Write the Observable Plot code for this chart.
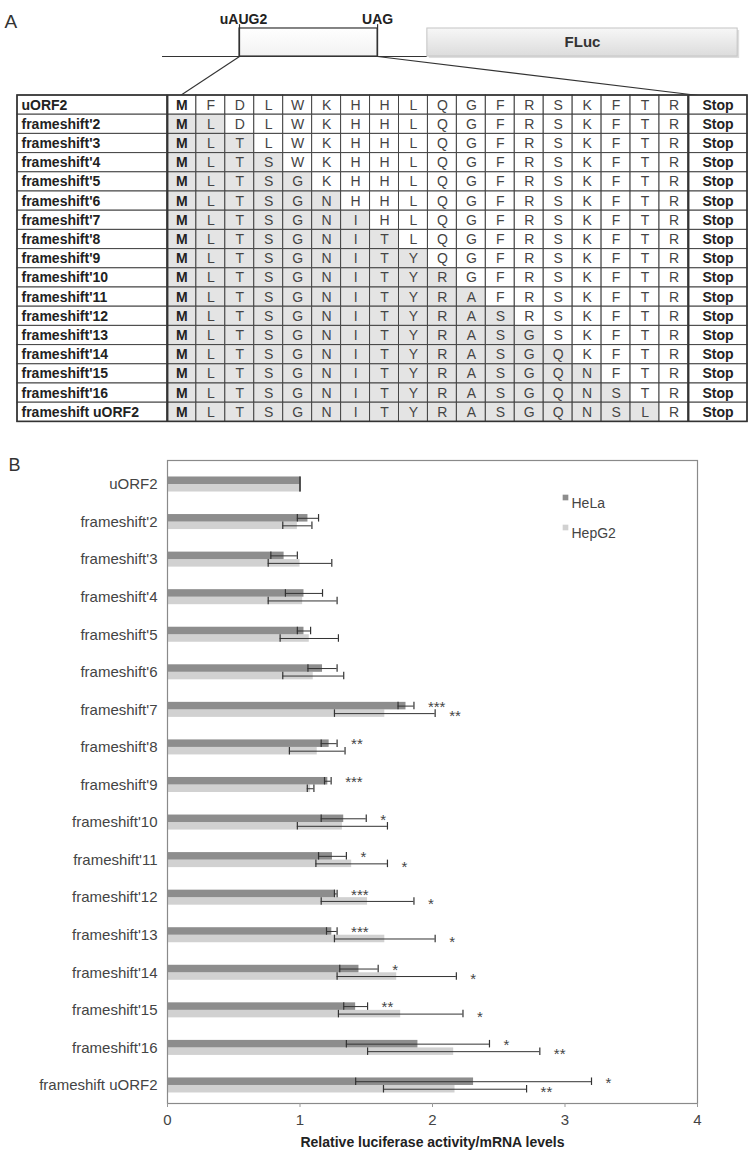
<!DOCTYPE html>
<html>
<head>
<meta charset="utf-8">
<script src="https://cdn.jsdelivr.net/npm/d3@7"></script>
<script src="https://cdn.jsdelivr.net/npm/@observablehq/plot@0.6"></script>
<style>
  body { margin: 0; background: #fff; }
  #chart svg { display: block; }
</style>
</head>
<body>
<div id="chart"></div>
<script>
// ---------- Panel A data ----------
const rowNames = ["uORF2","frameshift'2","frameshift'3","frameshift'4","frameshift'5","frameshift'6",
  "frameshift'7","frameshift'8","frameshift'9","frameshift'10","frameshift'11","frameshift'12",
  "frameshift'13","frameshift'14","frameshift'15","frameshift'16","frameshift uORF2"];
const rowSequences = [
  "MFDLWKHHLQGFRSKFTR",
  "MLDLWKHHLQGFRSKFTR",
  "MLTLWKHHLQGFRSKFTR",
  "MLTSWKHHLQGFRSKFTR",
  "MLTSGKHHLQGFRSKFTR",
  "MLTSGNHHLQGFRSKFTR",
  "MLTSGNIHLQGFRSKFTR",
  "MLTSGNITLQGFRSKFTR",
  "MLTSGNITYQGFRSKFTR",
  "MLTSGNITYRGFRSKFTR",
  "MLTSGNITYRAFRSKFTR",
  "MLTSGNITYRASRSKFTR",
  "MLTSGNITYRASGSKFTR",
  "MLTSGNITYRASGQKFTR",
  "MLTSGNITYRASGQNFTR",
  "MLTSGNITYRASGQNSTR",
  "MLTSGNITYRASGQNSLR"
];
const shadedCodons = [0,2,3,4,5,6,7,8,9,10,11,12,13,14,15,16,17];
const stopLabel = "Stop";

// schematic of the reporter (in table-column units)
const backbone = [{x1: -0.17, x2: 8.98}];
const uorfBox = [{start: 2.49, end: 7.26, startLabel: "uAUG2", endLabel: "UAG"}];
const flucBox = [{start: 8.98, end: 19.70, label: "FLuc"}];
const zoomTargets = [0.45, 18.35];
const featureTop = -3.49, featureBottom = -2.03;

// ---------- Panel B data ----------
const constructs = rowNames;
const helaMean  = [1.00,1.06,0.88,1.03,1.03,1.17,1.80,1.22,1.21,1.33,1.245,1.27,1.24,1.445,1.42,1.89,2.31];
const helaErr   = [0.00,0.08,0.10,0.14,0.05,0.11,0.06,0.06,0.025,0.17,0.105,0.01,0.04,0.145,0.09,0.54,0.89];
const hepg2Mean = [1.00,0.98,1.00,1.02,1.07,1.10,1.64,1.13,1.08,1.32,1.39,1.51,1.64,1.73,1.76,2.16,2.17];
const hepg2Err  = [0.00,0.11,0.24,0.26,0.22,0.23,0.38,0.21,0.025,0.34,0.27,0.35,0.38,0.45,0.47,0.65,0.54];
const helaSig   = ["","","","","","","***","**","***","*","*","***","***","*","**","*","*"];
const hepg2Sig  = ["","","","","","","**","","","","*","*","*","*","*","**","**"];
const xTicks = [0,1,2,3,4];
const seriesNames = ["HeLa","HepG2"];
const xTitle = "Relative luciferase activity/mRNA levels";

const helaColor = "#8d8d8d", hepg2Color = "#d1d1d1";
const font = "'Liberation Sans', Arial, Helvetica, sans-serif";

// ---------- build panel A ----------
const cells = [];
rowNames.forEach((name, i) => {
  const seq = rowSequences[i];
  for (let j = 0; j < seq.length; j++) {
    cells.push({row: i, col: j, aa: seq[j], shaded: j < shadedCodons[i]});
  }
});
const rowsIdx = rowNames.map((d, i) => ({name: d, i}));
const nCols = rowSequences[0].length;

const defsMark = () => {
  const defs = d3.create("svg:defs");
  const g = defs.append("linearGradient").attr("id", "flucGrad").attr("x1", 0).attr("y1", 0).attr("x2", 0).attr("y2", 1);
  g.append("stop").attr("offset", "0%").attr("stop-color", "#f7f7f7");
  g.append("stop").attr("offset", "100%").attr("stop-color", "#dcdcdc");
  const g2 = defs.append("linearGradient").attr("id", "uorfGrad").attr("x1", 0).attr("y1", 0).attr("x2", 0).attr("y2", 1);
  g2.append("stop").attr("offset", "0%").attr("stop-color", "#ffffff");
  g2.append("stop").attr("offset", "100%").attr("stop-color", "#f2f2f2");
  return defs.node();
};

const panelA = Plot.plot({
  width: 750,
  height: 440,
  marginLeft: 17, marginRight: 3, marginTop: 0, marginBottom: 0,
  style: {fontFamily: font, background: "white"},
  x: {domain: [-5.18, 20.04], axis: null},
  y: {domain: [-4.948, 17.969], range: [0, 440], axis: null},
  color: {type: "identity"},
  marks: [
    defsMark,
    Plot.text(["A"], {frameAnchor: "top-left", dx: -13, dy: 14, fontSize: 19, fill: "#333"}),
    // backbone
    Plot.ruleY(backbone, {y: featureBottom, x1: "x1", x2: "x2", stroke: "#333", strokeWidth: 1.2}),
    // FLuc box with shadow
    Plot.rect(flucBox, {x1: "start", x2: "end", y1: featureTop, y2: featureBottom, fill: "#bdbdbd", fillOpacity: 0.5, dx: 2, dy: 2}),
    Plot.rect(flucBox, {x1: "start", x2: "end", y1: featureTop, y2: featureBottom, fill: "url(#flucGrad)", stroke: "#c4c4c4"}),
    Plot.text(flucBox, {x: d => (d.start + d.end) / 2, y: (featureTop + featureBottom) / 2, text: "label", fontWeight: "bold", fontSize: 15, fill: "#333"}),
    // uORF box
    Plot.rect(uorfBox, {x1: "start", x2: "end", y1: featureTop, y2: featureBottom, fill: "url(#uorfGrad)", stroke: "#333", strokeWidth: 1.2}),
    Plot.ruleX(uorfBox, {x: "start", y1: featureTop - 0.2, y2: featureBottom, stroke: "#333", strokeWidth: 1.2}),
    Plot.ruleX(uorfBox, {x: "end", y1: featureTop - 0.2, y2: featureBottom, stroke: "#333", strokeWidth: 1.2}),
    Plot.text(uorfBox, {x: "start", y: featureTop - 0.2, text: "startLabel", lineAnchor: "bottom", dx: 4, dy: -1, fontWeight: "bold", fontSize: 14, fill: "#222"}),
    Plot.text(uorfBox, {x: "end", y: featureTop - 0.2, text: "endLabel", lineAnchor: "bottom", dy: -1, fontWeight: "bold", fontSize: 14, fill: "#222"}),
    // zoom lines
    Plot.link(uorfBox, {x1: "start", y1: featureBottom, x2: zoomTargets[0], y2: 0, stroke: "#333", strokeWidth: 1.1}),
    Plot.link(uorfBox, {x1: "end", y1: featureBottom, x2: zoomTargets[1], y2: 0, stroke: "#333", strokeWidth: 1.1}),
    // table: name cells
    Plot.rect(rowsIdx, {x1: -5.18, x2: 0, y1: d => d.i, y2: d => d.i + 1, fill: "white", stroke: "#444", strokeWidth: 1}),
    // amino acid cells
    Plot.rect(cells, {x1: "col", x2: d => d.col + 1, y1: "row", y2: d => d.row + 1, fill: d => d.shaded ? "#e4e4e4" : "#ffffff", stroke: "#444", strokeWidth: 1}),
    // stop cells
    Plot.rect(rowsIdx, {x1: nCols, x2: 20.04, y1: d => d.i, y2: d => d.i + 1, fill: "white", stroke: "#444", strokeWidth: 1}),
    // thicker separators & outer border
    Plot.ruleX([0, nCols], {y1: 0, y2: rowNames.length, stroke: "#333", strokeWidth: 2}),
    Plot.rect([0], {x1: -5.18, x2: 20.04, y1: 0, y2: rowNames.length, fill: "none", stroke: "#333", strokeWidth: 1.6}),
    // texts
    Plot.text(rowsIdx, {x: -5.18, y: d => d.i + 0.5, text: "name", textAnchor: "start", dx: 4, fontWeight: "bold", fontSize: 14, fill: "#222"}),
    Plot.text(cells.filter(d => d.col === 0), {x: d => d.col + 0.5, y: d => d.row + 0.5, text: "aa", fontWeight: "bold", fontSize: 14, fill: "#222"}),
    Plot.text(cells.filter(d => d.col > 0), {x: d => d.col + 0.5, y: d => d.row + 0.5, text: "aa", fontSize: 14, fill: "#444"}),
    Plot.text(rowsIdx, {x: (nCols + 20.04) / 2, y: d => d.i + 0.5, text: () => stopLabel, fontWeight: "bold", fontSize: 14, fill: "#222"})
  ]
});

// ---------- build panel B ----------
const hela = constructs.map((c, i) => ({name: c, i, mean: helaMean[i], err: helaErr[i], sig: helaSig[i]}));
const hepg2 = constructs.map((c, i) => ({name: c, i, mean: hepg2Mean[i], err: hepg2Err[i], sig: hepg2Sig[i]}));
const barH = 0.2, capH = 0.1;

const panelB = Plot.plot({
  width: 750,
  height: 714,
  marginLeft: 167, marginRight: 53, marginTop: 20, marginBottom: 51,
  style: {fontFamily: font, background: "white", color: "#444"},
  x: {domain: [0, 4]},
  y: {domain: [-0.639, 16.48], range: [20, 663]},
  marks: [
    Plot.text(["B"], {frameAnchor: "top-left", dx: -159, dy: -2, fontSize: 18, fill: "#333"}),
    // bars
    Plot.rect(hepg2, {x1: 0, x2: "mean", y1: d => d.i, y2: d => d.i + barH, fill: hepg2Color}),
    Plot.rect(hela, {x1: 0, x2: "mean", y1: d => d.i - barH, y2: d => d.i, fill: helaColor}),
    // error bars
    Plot.ruleY(hela, {y: d => d.i - barH / 2, x1: d => d.mean - d.err, x2: d => d.mean + d.err, stroke: "#333", strokeWidth: 1}),
    Plot.ruleX(hela, {x: d => d.mean - d.err, y1: d => d.i - barH / 2 - capH, y2: d => d.i - barH / 2 + capH, stroke: "#333", strokeWidth: 1.2}),
    Plot.ruleX(hela, {x: d => d.mean + d.err, y1: d => d.i - barH / 2 - capH, y2: d => d.i - barH / 2 + capH, stroke: "#333", strokeWidth: 1.2}),
    Plot.ruleY(hepg2, {y: d => d.i + barH / 2, x1: d => d.mean - d.err, x2: d => d.mean + d.err, stroke: "#333", strokeWidth: 1}),
    Plot.ruleX(hepg2, {x: d => d.mean - d.err, y1: d => d.i + barH / 2 - capH, y2: d => d.i + barH / 2 + capH, stroke: "#333", strokeWidth: 1.2}),
    Plot.ruleX(hepg2, {x: d => d.mean + d.err, y1: d => d.i + barH / 2 - capH, y2: d => d.i + barH / 2 + capH, stroke: "#333", strokeWidth: 1.2}),
    // significance stars
    Plot.text(hela.filter(d => d.sig), {x: d => d.mean + d.err, y: d => d.i - barH / 2, text: "sig", textAnchor: "start", dx: 14, dy: 1, fontSize: 15, fill: "#444"}),
    Plot.text(hepg2.filter(d => d.sig), {x: d => d.mean + d.err, y: d => d.i + barH / 2, text: "sig", textAnchor: "start", dx: 14, dy: 3, fontSize: 15, fill: "#444"}),
    // frame and axes
    Plot.frame({stroke: "#8a8a8a", strokeWidth: 1.2}),
    Plot.axisX({ticks: xTicks, tickFormat: d => String(d), tickSize: 4, tickPadding: 7, fontSize: 15, label: null, stroke: "#999", fill: "#444"}),
    Plot.axisY({ticks: d3.range(constructs.length), tickFormat: i => constructs[i], tickSize: 0, tickPadding: 10, fontSize: 15, label: null, fill: "#444"}),
    Plot.text([xTitle], {frameAnchor: "bottom", dy: 43, fontWeight: "bold", fontSize: 14, fill: "#222"}),
    // legend
    Plot.dot([0], {frameAnchor: "top-left", dx: 398, dy: 37, symbol: "square", r: 3.2, fill: helaColor}),
    Plot.dot([0], {frameAnchor: "top-left", dx: 398, dy: 67, symbol: "square", r: 3.2, fill: hepg2Color}),
    Plot.text([seriesNames[0]], {frameAnchor: "top-left", dx: 404, dy: 38, textAnchor: "start", fontSize: 14, fill: "#444"}),
    Plot.text([seriesNames[1]], {frameAnchor: "top-left", dx: 404, dy: 68, textAnchor: "start", fontSize: 14, fill: "#444"})
  ]
});

const root = document.getElementById("chart");
root.appendChild(panelA);
root.appendChild(panelB);
</script>
</body>
</html>
